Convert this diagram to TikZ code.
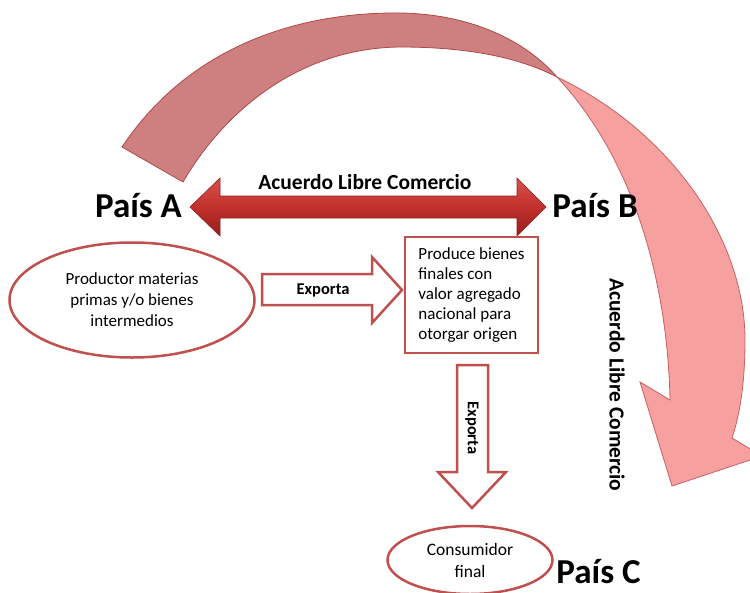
\documentclass[tikz,border=0pt]{standalone}
\usepackage{fontspec}
\setmainfont{Carlito}
\usepackage{tikz}
\usetikzlibrary{shapes.geometric}

\definecolor{rojo}{RGB}{192,80,77}
\definecolor{atrasfill}{RGB}{206,128,128}
\definecolor{atrasdraw}{RGB}{176,72,72}
\definecolor{frentefill}{RGB}{247,160,160}
\definecolor{frentedraw}{RGB}{200,96,96}
\definecolor{acuerdotop}{RGB}{214,82,76}
\definecolor{acuerdomid}{RGB}{194,48,44}
\definecolor{acuerdobot}{RGB}{150,30,30}

\tikzset{
  pais/.style={font=\fontsize{35}{40}\selectfont\bfseries, anchor=base},
  acuerdo/.style={font=\fontsize{21.5}{24}\selectfont\bfseries},
  etiqueta/.style={font=\fontsize{16.5}{18}\selectfont\bfseries},
  cuerpo/.style={font=\fontsize{17}{21}\selectfont, align=center},
  borde/.style={draw=rojo, line width=2.5pt},
  flecha/.style={draw=rojo, line width=2.5pt, fill=white, line join=miter},
}

\begin{document}
\begin{tikzpicture}[x=1pt, y=-1pt]
        \useasboundingbox (0,0) rectangle (750,592);
        \clip (0,0) rectangle (750,592);

        % curved arrow A -> C
        \draw[fill=atrasfill, draw=atrasdraw, line width=0.8pt] (122,147) .. controls (190,45) and (300,12) .. (400,13)
            .. controls (470,14) and (525,40) .. (557,77)
            .. controls (520,58) and (470,47) .. (400,47)
            .. controls (300,48) and (225,110) .. (183,182) -- cycle;
        \draw[fill=frentefill, draw=frentedraw, line width=0.8pt] (557,77) .. controls (672,132) and (745,240) .. (745,340)
            .. controls (745,390) and (738,420) .. (732,438) -- (762,456) -- (672,486) -- (640,382) -- (670,400)
            .. controls (668,300) and (642,168) .. (557,77) -- cycle;

        % countries
        \node[pais] (A) at (138.5,217) {País A};
        \node[pais] (B) at (595,217) {País B};
        \node[pais] (C) at (598.5,583) {País C};

        % trade agreement A <-> B
        \path[top color=acuerdotop, bottom color=acuerdobot, middle color=acuerdomid, draw=acuerdobot, line width=0.6pt]
            (190,207) -- (220,178) -- (220,196) -- (517,196) -- (517,178) -- (546,207)
            -- (517,236) -- (517,218) -- (220,218) -- (220,236) -- cycle;
        \node[acuerdo] (ac1) at (365,182) {Acuerdo Libre Comercio};
        \node[acuerdo, rotate=-90] (ac2) at (617,385) {Acuerdo Libre Comercio};

        % boxes
        \node[borde, ellipse, minimum width=245pt, minimum height=115pt, cuerpo] (prod) at (132,300)
            {Productor materias\\primas y/o bienes\\intermedios};
        \node[borde, rectangle, minimum width=133pt, minimum height=116pt, align=left,
            font=\fontsize{17}{20}\selectfont] (final) at (471.5,295)
            {Produce bienes\\finales con\\valor agregado\\nacional para\\otorgar origen};
        \node[borde, ellipse, minimum width=165pt, minimum height=68pt, cuerpo,
            font=\fontsize{17.5}{22}\selectfont] (cons) at (470,560) {Consumidor\\final};

        % exports
        \draw[flecha] (262,274) -- (372,274) -- (372,257) -- (402,290) -- (372,323) -- (372,305) -- (262,305) -- cycle;
        \node[etiqueta] (exp1) at (323,290) {Exporta};
        \draw[flecha] (457,365) -- (488,365) -- (488,472) -- (506,472) -- (472,508) -- (438,472) -- (457,472) -- cycle;
        \node[etiqueta, rotate=-90] (exp2) at (472,428) {Exporta};
    \end{tikzpicture}
\end{document}
